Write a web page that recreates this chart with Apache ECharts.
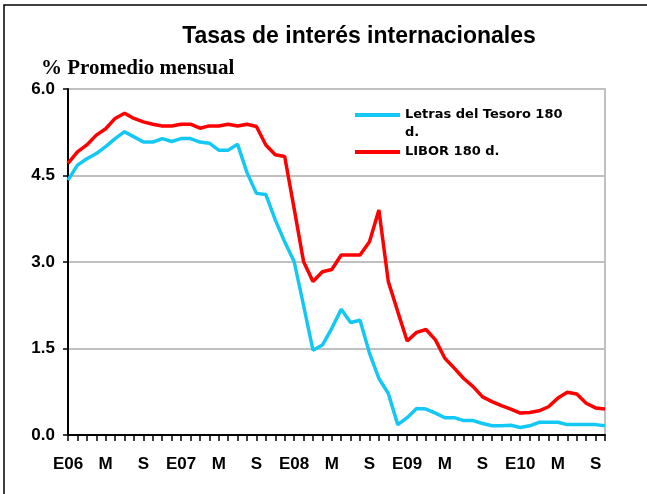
<!DOCTYPE html>
<html>
<head>
<meta charset="utf-8">
<script src="https://cdn.jsdelivr.net/npm/echarts@6/dist/echarts.min.js"></script>
<style>
  html, body { margin: 0; padding: 0; background: #fff; }
  #chart { width: 647px; height: 494px; }
</style>
</head>
<body>
<div id="chart"></div>
<script>
// meses ene-2006 .. oct-2010
const categories = [
  'E06', 'F', 'M', 'A', 'M', 'J', 'J', 'A', 'S', 'O', 'N', 'D',
  'E07', 'F', 'M', 'A', 'M', 'J', 'J', 'A', 'S', 'O', 'N', 'D',
  'E08', 'F', 'M', 'A', 'M', 'J', 'J', 'A', 'S', 'O', 'N', 'D',
  'E09', 'F', 'M', 'A', 'M', 'J', 'J', 'A', 'S', 'O', 'N', 'D',
  'E10', 'F', 'M', 'A', 'M', 'J', 'J', 'A', 'S', 'O'
]
const letrasTesoro = [
  4.42, 4.68, 4.79, 4.88, 5.00, 5.14, 5.26, 5.17, 5.08, 5.08, 5.14, 5.09,
  5.14, 5.14, 5.08, 5.06, 4.94, 4.94, 5.04, 4.55, 4.19, 4.17, 3.73, 3.35,
  3.01, 2.25, 1.47, 1.56, 1.85, 2.18, 1.95, 1.99, 1.42, 0.98, 0.72, 0.18,
  0.30, 0.46, 0.45, 0.38, 0.30, 0.30, 0.25, 0.25, 0.20, 0.16, 0.16, 0.17,
  0.13, 0.16, 0.22, 0.22, 0.22, 0.18, 0.18, 0.18, 0.18, 0.16
]
const libor = [
  4.71, 4.91, 5.03, 5.20, 5.31, 5.49, 5.58, 5.49, 5.43, 5.39, 5.36, 5.36,
  5.39, 5.39, 5.32, 5.36, 5.36, 5.39, 5.36, 5.39, 5.35, 5.03, 4.86, 4.83,
  3.93, 3.01, 2.66, 2.83, 2.87, 3.12, 3.12, 3.12, 3.35, 3.90, 2.66, 2.14,
  1.63, 1.78, 1.83, 1.65, 1.33, 1.16, 0.98, 0.84, 0.66, 0.58, 0.51, 0.45,
  0.38, 0.39, 0.42, 0.49, 0.64, 0.74, 0.71, 0.55, 0.47, 0.45
]
const yTicks = [0, 1.5, 3, 4.5, 6]

const chart = echarts.init(document.getElementById('chart'))

// iconos de leyenda: barra arriba (texto en dos lineas) o centrada
const iconTop = 'path://M0,0h0.01v0.01h-0.01z M0,7h45v4h-45z M0,36h0.01v-0.01h-0.01z'
const iconMid = 'path://M0,0h0.01v0.01h-0.01z M0,16h45v4h-45z M0,36h0.01v-0.01h-0.01z'

const option = {
  animation: false,
  backgroundColor: '#fff',
  graphic: [
    {
      // marco exterior
      type: 'rect',
      shape: { x: 4, y: 5, width: 800, height: 700 },
      style: { fill: 'none', stroke: '#000', lineWidth: 1.5 },
      silent: true
    }
  ],
  title: [
    {
      text: 'Tasas de interés internacionales',
      left: 354,
      top: 20,
      textAlign: 'center',
      textStyle: { fontFamily: 'Liberation Sans, Arial', fontWeight: 'bold', fontSize: 23, color: '#000' }
    },
    {
      text: '% Promedio mensual',
      left: 36,
      top: 53,
      textStyle: { fontFamily: 'Liberation Serif, Times New Roman', fontWeight: 'bold', fontSize: 21, color: '#000' }
    }
  ],
  legend: {
    orient: 'vertical',
    left: 350,
    top: 101,
    itemWidth: 45,
    itemHeight: 36,
    itemGap: -8,
    data: [
      { name: 'Letras del Tesoro 180\nd.', icon: iconTop },
      { name: 'LIBOR 180 d.', icon: iconMid }
    ],
    textStyle: { fontFamily: 'DejaVu Sans', fontWeight: 'bold', fontSize: 13, color: '#000', lineHeight: 18 },
    itemStyle: { borderWidth: 0 }
  },
  grid: {
    left: 68,
    right: 42,
    top: 89,
    bottom: 59,
    show: true,
    borderColor: '#c0c0c0',
    borderWidth: 2
  },
  xAxis: {
    type: 'category',
    data: categories,
    boundaryGap: false,
    axisLine: { lineStyle: { color: '#000', width: 2 } },
    axisTick: { interval: 0, length: 6, lineStyle: { color: '#000', width: 1.5 } },
    axisLabel: {
      interval: 3,
      margin: 21,
      fontFamily: 'Liberation Sans, Arial',
      fontWeight: 'bold',
      fontSize: 17,
      color: '#000'
    }
  },
  yAxis: {
    type: 'value',
    min: yTicks[0],
    max: yTicks[yTicks.length - 1],
    interval: 1.5,
    axisLine: { show: true, lineStyle: { color: '#000', width: 2 } },
    axisTick: { show: true, length: 5, lineStyle: { color: '#000', width: 1.5 } },
    axisLabel: {
      margin: 13,
      formatter: v => v.toFixed(1),
      fontFamily: 'Liberation Sans, Arial',
      fontWeight: 'bold',
      fontSize: 17,
      color: '#000'
    },
    splitLine: { lineStyle: { color: '#c0c0c0', width: 2 } }
  },
  series: [
    {
      name: 'Letras del Tesoro 180\nd.',
      type: 'line',
      data: letrasTesoro,
      symbol: 'none',
      color: '#14c8f5',
      lineStyle: { color: '#14c8f5', width: 3.5 }
    },
    {
      name: 'LIBOR 180 d.',
      type: 'line',
      data: libor,
      symbol: 'none',
      color: '#ff0000',
      lineStyle: { color: '#ff0000', width: 3.5 }
    }
  ]
}

chart.setOption(option)
</script>
</body>
</html>
